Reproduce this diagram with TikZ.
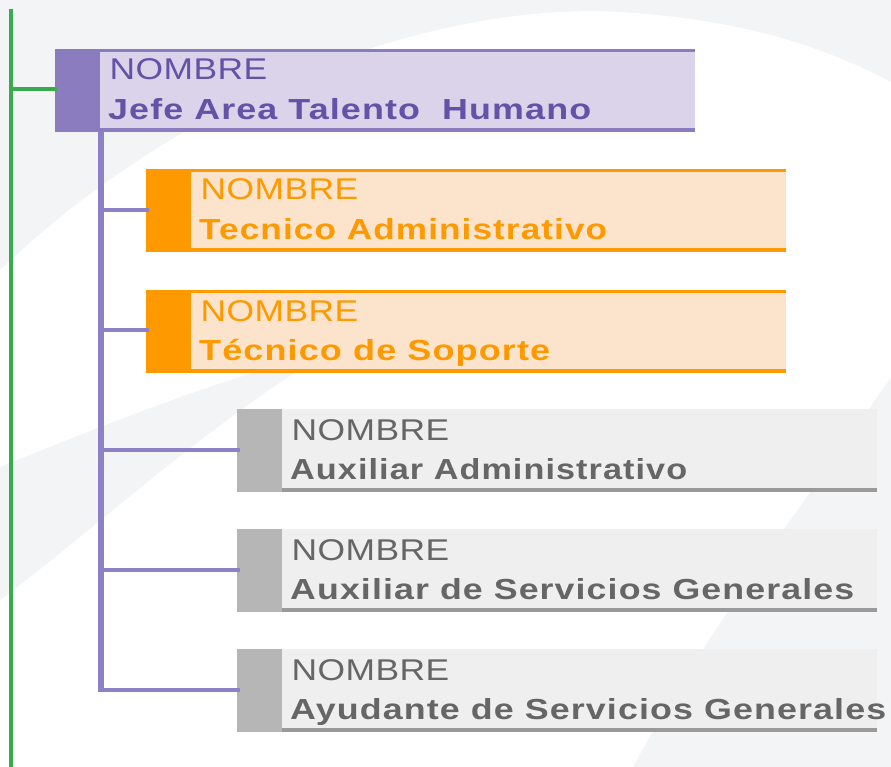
\documentclass[tikz,border=0pt]{standalone}
\usepackage{graphicx}
\usepackage{fontspec}
\setmainfont{Liberation Sans}
\newfontfamily\nomf[FakeStretch=1.18,LetterSpace=1.5]{Liberation Sans}
\newfontfamily\titf[FakeStretch=1.22,LetterSpace=3.8]{Liberation Sans}
\definecolor{bgg}{HTML}{F3F4F6}
\definecolor{pdark}{HTML}{8B7CC0}
\definecolor{plight}{HTML}{DAD3E9}
\definecolor{ptext}{HTML}{6651A9}
\definecolor{pedge}{HTML}{8B7CC0}
\definecolor{pline}{HTML}{8E80C4}
\definecolor{odark}{HTML}{FF9900}
\definecolor{olight}{HTML}{FCE4CC}
\definecolor{otext}{HTML}{FF9900}
\definecolor{oedge}{HTML}{FF9900}
\definecolor{gdark}{HTML}{B6B6B6}
\definecolor{glight}{HTML}{EFEFEF}
\definecolor{gedge}{HTML}{9A9A9A}
\definecolor{gtext}{HTML}{666666}
\definecolor{grn}{HTML}{3AAA4F}
\tikzset{
  boxpart/.style={anchor=north west, inner sep=0pt, outer sep=0pt, minimum height=83pt, draw=none},
  nomtxt/.style={anchor=base west, inner sep=0pt, font=\fontsize{30}{36}\selectfont\nomf},
  tittxt/.style={anchor=base west, inner sep=0pt, font=\fontsize{29}{35}\selectfont\titf\bfseries},
  trunk/.style={draw=pline, line width=5.5pt},
  branch/.style={draw=pline, line width=3.6pt},
  gline/.style={draw=grn, line width=4pt}
}
\newcommand{\orgbox}[7]{%
  \node[boxpart, fill=#5dark, minimum width=45pt] (#1d) at (#2,#3) {};
  \node[boxpart, fill=#5light, minimum width={#4-#2-45}] (#1l) at ({#2+45},#3) {};
  \draw[line width=4pt, draw=#5edge] ([yshift=2pt]#1l.south west) -- ([yshift=2pt]#1l.south east);
  \node[nomtxt, text=#5text] (#1n) at ({#2+54.5},{#3+31}) {NOMBRE};
  \node[tittxt, text=#5text] (#1t) at ({#2+53},{#3+70.5}) {\resizebox{#7pt}{\height}{#6}};
}
\begin{document}
\begin{tikzpicture}[x=1pt,y=-1pt]
\useasboundingbox (0,0) rectangle (891,767);
% background
\fill[bgg] (0,0) rectangle (891,767);
\fill[white] (0,270) .. controls (200,80) and (450,2) .. (620,12)
  .. controls (750,20) and (830,50) .. (891,82) -- (891,377)
  .. controls (820,480) and (700,640) .. (633,767) -- (0,767) -- cycle;
\fill[bgg] (0,467) .. controls (80,435) and (200,385) .. (330,350)
  .. controls (200,430) and (100,525) .. (0,600) -- cycle;
% boxes
\orgbox{b1}{55}{49}{695}{p}{Jefe Area Talento\ \ Humano}{483}
\orgbox{b2}{146}{169}{786}{o}{Tecnico Administrativo}{408}
\orgbox{b3}{146}{290}{786}{o}{Técnico de Soporte}{351}
\orgbox{b4}{237}{409}{877}{g}{Auxiliar Administrativo}{397}
\orgbox{b5}{237}{529}{877}{g}{Auxiliar de Servicios Generales}{564}
\orgbox{b6}{237}{649}{877}{g}{Ayudante de Servicios Generales}{596}
\draw[line width=2.6pt, draw=pedge] ([yshift=-1.3pt]b1l.north west) -- ([yshift=-1.3pt]b1l.north east);
\draw[line width=2.6pt, draw=oedge] ([yshift=-1.3pt]b2l.north west) -- ([yshift=-1.3pt]b2l.north east);
\draw[line width=2.6pt, draw=oedge] ([yshift=-1.3pt]b3l.north west) -- ([yshift=-1.3pt]b3l.north east);
% green line
\coordinate (g0) at (11,9);
\coordinate (g1) at (11,767);
\coordinate (gm) at (11,89);
\draw[gline] (g0) -- (g1);
\draw[gline] (gm) -- ([xshift=2pt]gm -| b1d.west);
% purple trunk
\coordinate (t0) at (101,131);
\coordinate (t5) at (101,692);
\draw[trunk] (t0) -- (t5);
\coordinate (t1) at (101,210);
\coordinate (t2) at (101,330);
\coordinate (t3) at (101,450);
\coordinate (t4) at (101,570);
\coordinate (t6) at (101,690);
\draw[branch] (t1) -- ([xshift=3pt]t1 -| b2d.west);
\draw[branch] (t2) -- ([xshift=3pt]t2 -| b3d.west);
\draw[branch] (t3) -- ([xshift=3pt]t3 -| b4d.west);
\draw[branch] (t4) -- ([xshift=3pt]t4 -| b5d.west);
\draw[branch] (t6) -- ([xshift=3pt]t6 -| b6d.west);
\end{tikzpicture}
\end{document}
